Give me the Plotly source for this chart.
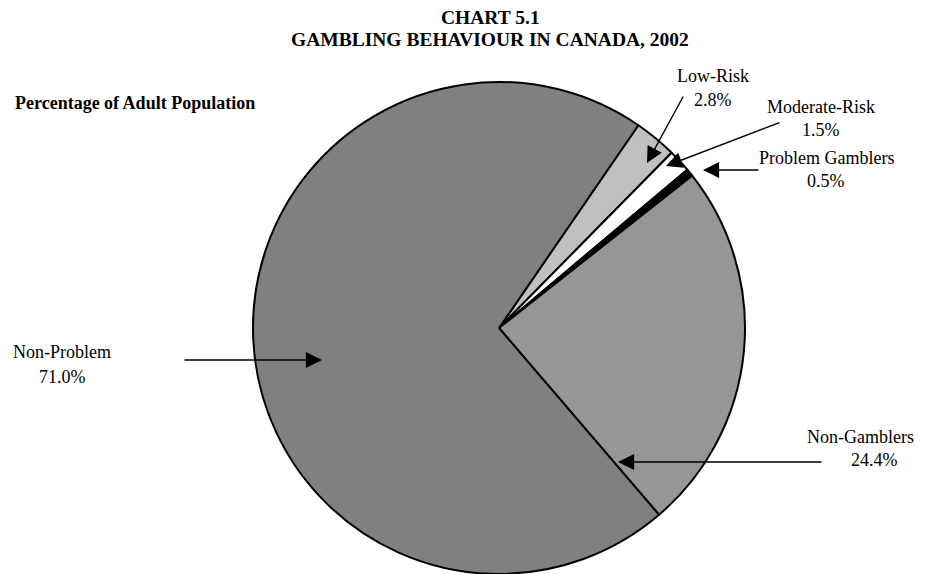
import plotly.graph_objects as go

labels = ["Low-Risk", "Moderate-Risk", "Problem Gamblers", "Non-Gamblers", "Non-Problem"]
values = [2.8, 1.5, 0.5, 24.4, 71.0]
colors = ["#c0c0c0", "#ffffff", "#000000", "#969696", "#808080"]

OFF = 8  # page body margin
W, H = 942 - OFF, 574
ML, MT, MR = 56 - OFF, 82 - OFF, 0
PW = W - ML - MR
PH = 492
MB = H - MT - PH

def px(x):
    return (x - OFF - ML) / PW

def py(y):
    return (H - MB - (y - OFF)) / PH

fig = go.Figure(go.Pie(
    labels=labels, values=values, sort=False, direction="clockwise",
    rotation=34.5, marker=dict(colors=colors, line=dict(color="#000000", width=2)),
    textinfo="none", hoverinfo="label+percent", showlegend=False,
    domain=dict(x=[0, 1], y=[0, 1])
))

FONT = "Liberation Serif, Times New Roman, serif"
ann = []
def text(x, y, s, size=18, bold=False):
    if bold:
        s = "<b>" + s + "</b>"
    ann.append(dict(x=px(x), y=py(y), xref="paper", yref="paper", text=s,
                    showarrow=False, xanchor="center", yanchor="middle",
                    font=dict(family=FONT, size=size, color="#000")))

def arrow(tx, ty, hx, hy):
    ann.append(dict(x=px(hx), y=py(hy), xref="paper", yref="paper", text="",
                    showarrow=True, ax=tx - hx, ay=ty - hy, axref="pixel", ayref="pixel",
                    arrowhead=2, arrowsize=2.3, arrowwidth=1.4, arrowcolor="#000"))

text(490, 18, "CHART 5.1", 19.5, True)
text(490, 40, "GAMBLING BEHAVIOUR IN CANADA, 2002", 19.5, True)
ann.append(dict(x=px(13), y=py(103), xref="paper", yref="paper",
                text="<b>Percentage of Adult Population</b>", showarrow=False,
                xanchor="left", yanchor="middle",
                font=dict(family=FONT, size=18, color="#000")))

label_text = {
    "Low-Risk": (713, 76, 713, 100),
    "Moderate-Risk": (821, 107, 821, 130),
    "Problem Gamblers": (826, 158, 826, 181),
    "Non-Gamblers": (860, 437, 874, 460),
    "Non-Problem": (62, 352, 62, 377),
}
for lab, val in zip(labels, values):
    x1, y1, x2, y2 = label_text[lab]
    text(x1, y1, lab)
    text(x2, y2, f"{val:.1f}%")

arrow(684, 95, 647, 163)
arrow(781, 122, 666, 166)
arrow(760, 170, 703, 170)
arrow(823, 462, 618, 462)
arrow(183, 360, 322, 360)

fig.update_layout(
    width=W, height=H, margin=dict(l=ML, r=MR, t=MT, b=MB),
    paper_bgcolor="white", plot_bgcolor="white",
    annotations=ann,
)

fig.write_html("out.html")
